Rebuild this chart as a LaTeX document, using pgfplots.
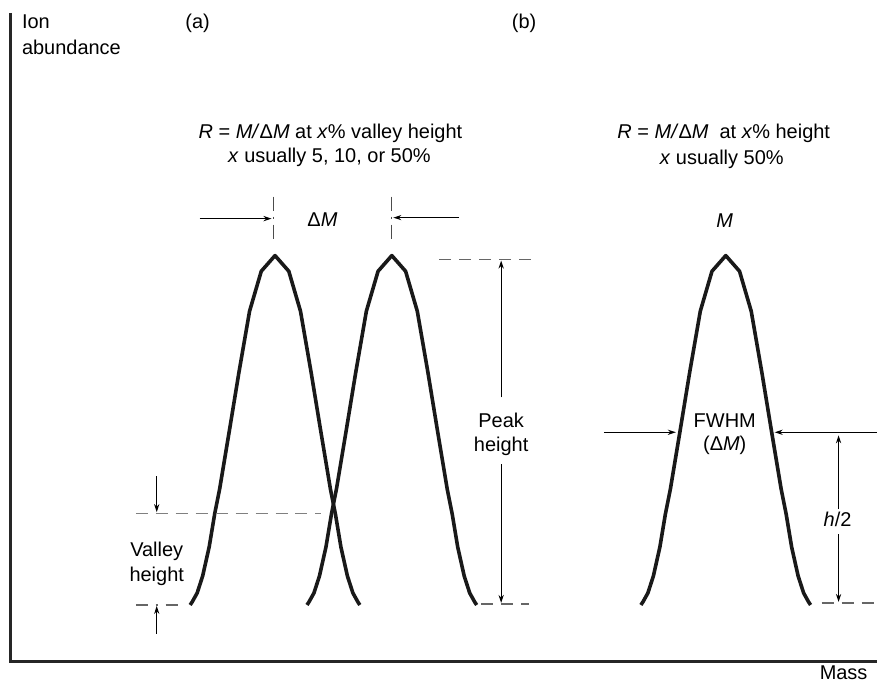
\documentclass[border=0pt]{standalone}
\usepackage{fontspec}
\setmainfont{Liberation Sans}
\usepackage{pgfplots}
\pgfplotsset{compat=1.18}
\usetikzlibrary{arrows.meta}
\begin{document}
\begin{tikzpicture}
\begin{axis}[hide axis, scale only axis, width=439pt, height=343.5pt,
  xmin=0, xmax=878, ymin=0, ymax=687, clip=false,
  every node/.style={font=\fontsize{10.9}{13}\selectfont, inner sep=0pt}]
% frame for bounding box
\addplot[draw=none] coordinates {(0,0) (878,687)};
% axes
\addplot[line width=1.5pt, color=black!85] coordinates {(11,674) (11,24) (878,24)};
% peak 1
\addplot[line width=1.8pt, line join=round, color=black!90] coordinates {
(190.5,81) (192.5,84) (197.5,93) (203,110) (209.5,139) (215,172) (220,197) (230,257) (239.3,313.7) (250,375.3) (261.7,415.3)
(275.5,431)
(289.3,415.3) (301,375.3) (311.7,313.7) (321,257) (331,197) (336,172) (341.5,139) (348,110) (353.5,93) (358.5,84) (360.5,81)};
% peak 2
\addplot[line width=1.8pt, line join=round, color=black!90] coordinates {
(307.5,81) (309.5,84) (314.5,93) (320,110) (326.5,139) (332,172) (337,197) (347,257) (356.3,313.7) (367,375.3) (378.7,415.3)
(392.5,431)
(406.3,415.3) (418,375.3) (428.7,313.7) (438,257) (448,197) (453,172) (458.5,139) (465,110) (470.5,93) (475.5,84) (477.5,81)};
% peak 3
\addplot[line width=1.8pt, line join=round, color=black!90] coordinates {
(642,81) (644,84) (649,93) (654.5,110) (661,139) (666.5,172) (671.5,197) (681.5,257) (690.8,313.7) (701.5,375.3) (713.2,415.3)
(727,431)
(740.8,415.3) (752.5,375.3) (763.2,313.7) (772.5,257) (782.5,197) (787.5,172) (793,139) (799.5,110) (805,93) (810,84) (812,81)};
% dashed guides
\addplot[black!50, line width=0.6pt, dash pattern=on 6pt off 4pt] coordinates {(136,173) (322,173)};
\addplot[black!60, line width=0.6pt, dash pattern=on 6pt off 4pt] coordinates {(440,427) (535,427)};
\addplot[black!60, line width=0.6pt, dash pattern=on 6pt off 4pt] coordinates {(482,82) (530,82)};
\addplot[black!60, line width=0.6pt, dash pattern=on 6pt off 4pt] coordinates {(823,83) (878,83)};
\addplot[black!60, line width=0.6pt, dash pattern=on 6pt off 4pt on 1pt off 4pt] coordinates {(136,81) (183,81)};
\addplot[black!70, line width=0.6pt, dash pattern=on 7pt off 3pt on 1pt off 3pt] coordinates {(274,490) (274,445)};
\addplot[black!70, line width=0.6pt, dash pattern=on 7pt off 3pt on 1pt off 3pt] coordinates {(392,490) (392,445)};
% arrows
\addplot[black, line width=0.6pt, -{Stealth[length=4pt,width=2.6pt]}] coordinates {(200,468) (272,468)};
\addplot[black, line width=0.6pt, -{Stealth[length=4pt,width=2.6pt]}] coordinates {(460,469) (394,469)};
\addplot[black, line width=0.6pt, -{Stealth[length=4pt,width=2.6pt]}] coordinates {(502,289) (502,426)};
\addplot[black, line width=0.6pt, -{Stealth[length=4pt,width=2.6pt]}] coordinates {(502,222) (502,83)};
\addplot[black, line width=0.6pt, -{Stealth[length=4pt,width=2.6pt]}] coordinates {(157,210) (157,174)};
\addplot[black, line width=0.6pt, -{Stealth[length=4pt,width=2.6pt]}] coordinates {(157,52) (157,80)};
\addplot[black, line width=0.6pt, -{Stealth[length=4pt,width=2.6pt]}] coordinates {(605,254) (677,254)};
\addplot[black, line width=0.6pt, -{Stealth[length=4pt,width=2.6pt]}] coordinates {(878,254) (776,254)};
\addplot[black, line width=0.6pt, -{Stealth[length=4pt,width=2.6pt]}] coordinates {(840,177) (840,251)};
\addplot[black, line width=0.6pt, -{Stealth[length=4pt,width=2.6pt]}] coordinates {(840,152) (840,84)};
% texts
\node[anchor=base west] at (axis cs:15,658) {Ion};
\node[anchor=base west] at (axis cs:15,632) {abundance};
\node[anchor=base] at (axis cs:198,658) {(a)};
\node[anchor=base] at (axis cs:525,658) {(b)};
\node[anchor=base] at (axis cs:331,548) {\textit{R} = \textit{M/}Δ\textit{M} at \textit{x}\% valley height};
\node[anchor=base] at (axis cs:330,524) {\textit{x} usually 5, 10, or 50\%};
\node[anchor=base] at (axis cs:725,548) {\textit{R} = \textit{M/}Δ\textit{M}\ \ at \textit{x}\% height};
\node[anchor=base] at (axis cs:723,522) {\textit{x} usually 50\%};
\node[anchor=base] at (axis cs:323,460) {Δ\textit{M}};
\node[anchor=base] at (axis cs:726,459) {\textit{M}};
\node[anchor=base] at (axis cs:502,259) {Peak};
\node[anchor=base] at (axis cs:502,235) {height};
\node[anchor=base] at (axis cs:157,130) {Valley};
\node[anchor=base] at (axis cs:157,105) {height};
\node[anchor=base] at (axis cs:726,259) {FWHM};
\node[anchor=base] at (axis cs:726,236) {(Δ\textit{M})};
\node[anchor=base] at (axis cs:839,160) {\textit{h}/2};
\node[anchor=base east] at (axis cs:876,6) {Mass};
\end{axis}
\end{tikzpicture}
\end{document}
